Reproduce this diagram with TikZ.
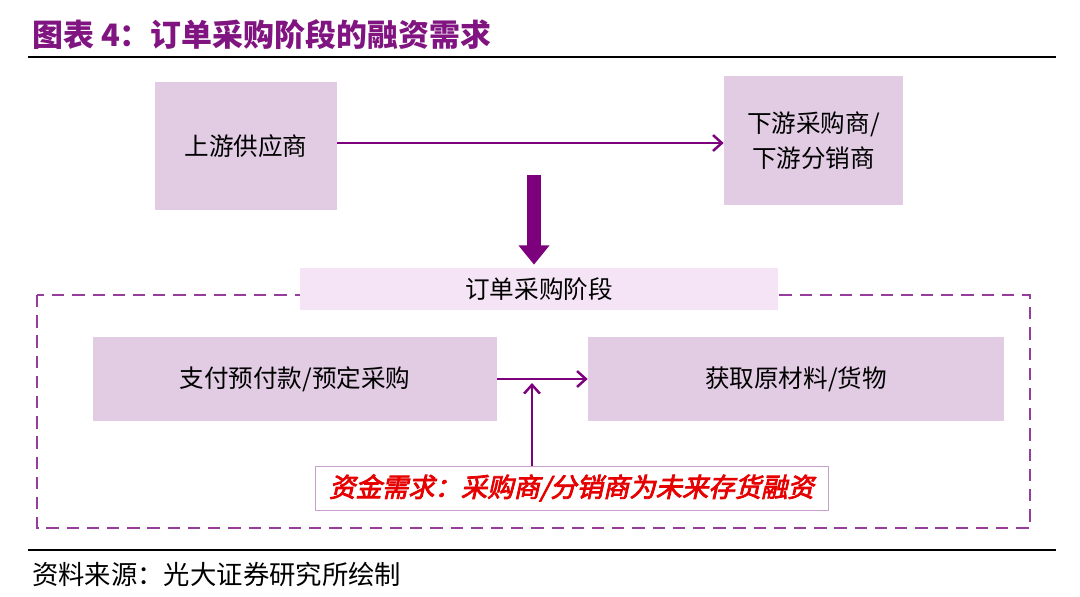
\documentclass[tikz,border=0pt]{standalone}
\usepackage{fontspec}
\setmainfont{Noto Sans CJK SC}
\newfontfamily\cjkslant[FakeSlant=0.22,FakeBold=3]{Noto Sans CJK SC}
\usetikzlibrary{arrows.meta,calc}
\definecolor{titlepurple}{RGB}{128,20,128}
\definecolor{arrowpurple}{RGB}{125,0,125}
\definecolor{boxfill}{RGB}{226,204,228}
\definecolor{stagefill}{RGB}{244,228,245}
\definecolor{dashpurple}{RGB}{150,60,155}
\definecolor{needline}{RGB}{200,160,205}
\definecolor{needred}{RGB}{230,0,0}
\tikzset{
  box/.style={fill=boxfill, inner sep=0pt, align=center, font=\fontsize{14}{20}\selectfont},
  thinarrow/.style={arrowpurple, line width=1.4pt, -{Straight Barb[length=5pt,width=9pt]}},
}

\begin{document}
\begin{tikzpicture}[x=0.02cm,y=-0.02cm]
\useasboundingbox (0,0) rectangle (1080,596);
\node[anchor=west, titlepurple, font=\fontsize{17.6}{20}\selectfont\bfseries] (title) at (26,35) {图表 4：订单采购阶段的融资需求};
\draw[line width=1.2pt] (28,57) -- (1056,57);
\node[box, minimum width=3.64cm, minimum height=2.56cm] (up) at (246,146) {上游供应商};
\node[box, minimum width=3.58cm, minimum height=2.58cm] (down) at (813.5,140.5) {下游采购商/\\下游分销商};
\draw[thinarrow] (up.east |- 0,143) -- (down.west |- 0,143);
\draw[dashpurple, line width=1.5pt, dash pattern=on 7pt off 4.5pt] (37,295) rectangle (1030,528);
\node[fill=stagefill, minimum width=9.56cm, minimum height=0.84cm, font=\fontsize{14}{16}\selectfont] (stage) at (539,289) {订单采购阶段};
\coordinate (t) at (534,175);
\draw[arrowpurple, line width=7.5pt, -{Triangle[length=11pt,width=17pt]}] (t) -- ($(t |- stage.north)+(0,-3)$);
\node[box, minimum width=8.08cm, minimum height=1.68cm] (pay) at (295,379) {支付预付款/预定采购};
\node[box, minimum width=8.32cm, minimum height=1.68cm] (get) at (796,379) {获取原材料/货物};
\draw[thinarrow] (pay.east) -- (get.west);
\node[draw=needline, fill=white, minimum width=10.26cm, minimum height=0.88cm, text=needred, font=\fontsize{15}{18}\selectfont\cjkslant] (need) at (571.5,488) {资金需求：采购商/分销商为未来存货融资};
\coordinate (m) at (532,383);
\draw[thinarrow] (need.north -| m) -- (m);
\draw[line width=1.2pt] (28,550) -- (1056,550);
\node[anchor=west, font=\fontsize{15}{18}\selectfont] (src) at (26,574) {资料来源：光大证券研究所绘制};
\end{tikzpicture}
\end{document}
